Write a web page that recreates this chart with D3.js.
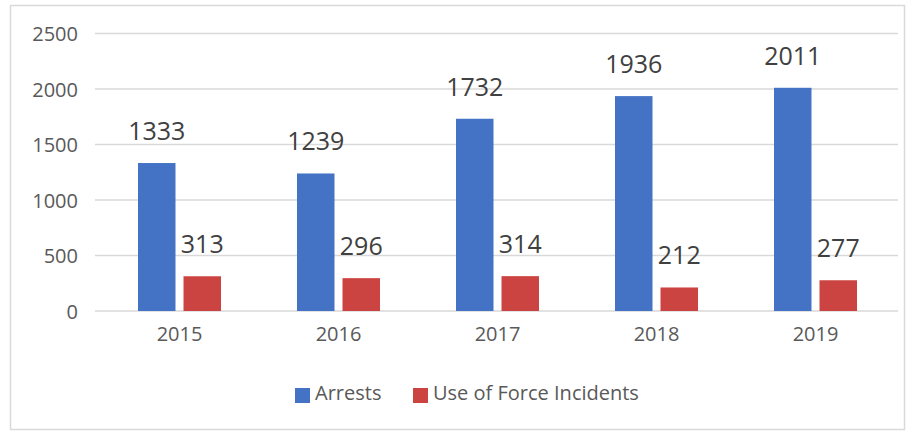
<!DOCTYPE html>
<html><head><meta charset="utf-8">
<script src="https://cdn.jsdelivr.net/npm/d3@7"></script>
<style>body{margin:0;background:#fff;}svg{display:block;font-family:"Open Sans",sans-serif;}</style>
</head><body>
<script>
const categories = ["2015","2016","2017","2018","2019"];
const seriesNames = ["Arrests","Use of Force Incidents"];
const arrests = [1333,1239,1732,1936,2011];
const useOfForce = [313,296,314,212,277];
const yTicks = [0,500,1000,1500,2000,2500];
const colors = ["#4472C4","#CC4441"];

const W=914,H=434;
const svg=d3.select("body").append("svg").attr("width",W).attr("height",H);
svg.append("rect").attr("x",10.5).attr("y",5.5).attr("width",894).attr("height",424)
  .attr("fill","#fff").attr("stroke","#d9d9d9").attr("stroke-width",1.5);

const y=d3.scaleLinear().domain([0,2500]).range([311,33.5]);
const x=d3.scaleBand().domain(categories).range([100,895]).paddingInner(0).paddingOuter(0);
const xs=d3.scaleBand().domain(seriesNames).range([0,x.bandwidth()]).paddingInner(0.176).paddingOuter(0.835);

const grid=svg.append("g");
grid.selectAll("line").data(yTicks).join("line")
  .attr("x1",95).attr("x2",898).attr("y1",d=>y(d)).attr("y2",d=>y(d))
  .attr("stroke","#d9d9d9").attr("stroke-width",1.5);

const yAxis=svg.append("g").attr("transform","translate(78,0)")
  .call(d3.axisLeft(y).tickValues(yTicks).tickSize(0).tickPadding(0).tickFormat(d3.format("d")));
yAxis.select(".domain").remove();
yAxis.selectAll("text").attr("font-size",20).attr("fill","#595959").attr("font-family","Open Sans").attr("dy","0.36em");

const xAxis=svg.append("g").attr("transform","translate(0,311)")
  .call(d3.axisBottom(x).tickSize(0).tickPadding(0));
xAxis.select(".domain").remove();
xAxis.selectAll("text").attr("font-size",20).attr("fill","#595959").attr("font-family","Open Sans").attr("dy","1.5em");

const data=[arrests,useOfForce];
seriesNames.forEach((s,si)=>{
  const g=svg.append("g");
  g.selectAll("rect").data(categories).join("rect")
    .attr("x",c=>x(c)+xs(s)).attr("width",xs.bandwidth())
    .attr("y",(c,i)=>y(data[si][i])).attr("height",(c,i)=>y(0)-y(data[si][i]))
    .attr("fill",colors[si]);
  g.selectAll("text").data(categories).join("text")
    .attr("x",c=>x(c)+xs(s)+xs.bandwidth()/2).attr("y",(c,i)=>y(data[si][i])-23)
    .attr("text-anchor","middle").attr("font-size",25).attr("fill","#404040")
    .text((c,i)=>data[si][i]);
});

const legendX=[295,413];
const lg=svg.append("g");
seriesNames.forEach((s,i)=>{
  lg.append("rect").attr("x",legendX[i]).attr("y",388).attr("width",15).attr("height",15).attr("fill",colors[i]);
  lg.append("text").attr("x",legendX[i]+20).attr("y",400).attr("font-size",20).attr("fill","#595959").text(s);
});
</script>
</body></html>
